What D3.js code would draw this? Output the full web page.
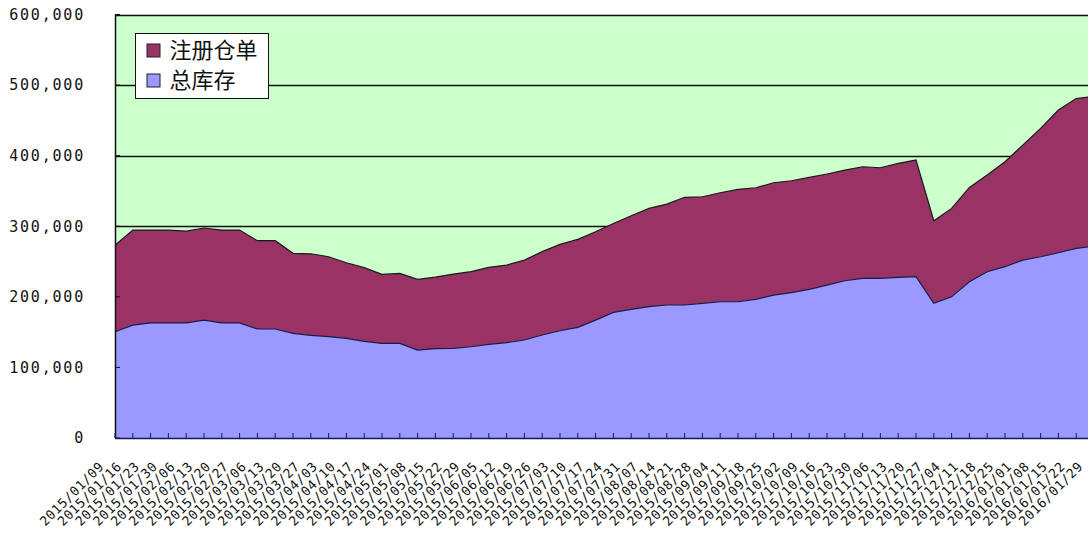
<!DOCTYPE html>
<html>
<head>
<meta charset="utf-8">
<script src="https://cdn.jsdelivr.net/npm/d3@7"></script>
<style>
  html, body { margin: 0; padding: 0; background: #ffffff; }
  svg { display: block; }
</style>
</head>
<body>
<svg id="chart" width="1088" height="539"></svg>
<script>
const dates = [
  "2015/01/09","2015/01/16","2015/01/23","2015/01/30","2015/02/06","2015/02/13","2015/02/20","2015/02/27",
  "2015/03/06","2015/03/13","2015/03/20","2015/03/27","2015/04/03","2015/04/10","2015/04/17","2015/04/24",
  "2015/05/01","2015/05/08","2015/05/15","2015/05/22","2015/05/29","2015/06/05","2015/06/12","2015/06/19",
  "2015/06/26","2015/07/03","2015/07/10","2015/07/17","2015/07/24","2015/07/31","2015/08/07","2015/08/14",
  "2015/08/21","2015/08/28","2015/09/04","2015/09/11","2015/09/18","2015/09/25","2015/10/02","2015/10/09",
  "2015/10/16","2015/10/23","2015/10/30","2015/11/06","2015/11/13","2015/11/20","2015/11/27","2015/12/04",
  "2015/12/11","2015/12/18","2015/12/25","2016/01/01","2016/01/08","2016/01/15","2016/01/22","2016/01/29"
];

// 总库存 (total inventory) – bottom series
const totalStock = [
  150600,160000,163000,163000,163000,167000,163000,163000,154400,154400,148300,145400,143500,141200,137000,134000,
  134000,124600,126500,127000,129300,132700,135000,138800,145900,152000,156800,167000,178000,182300,186000,188400,
  188400,190800,193000,193000,196400,202500,205900,210600,216700,222800,226200,226200,227600,228500,190800,200000,
  221400,235600,242700,252000,256800,262500,268700,272000
];

// 注册仓单 (registered warrants) – stacked on top
const registered = [
  122400,134600,131600,131600,130000,130500,131600,131600,125100,125100,113300,115600,113300,107100,104300,97800,
  99200,100100,101500,105300,106300,109100,110000,113200,118100,122300,124600,125200,126000,132600,139300,143000,
  152600,151000,154500,159300,158100,159100,158600,158600,157300,156800,158100,156700,161400,165300,117000,125300,
  133600,136900,148700,163000,181900,202100,212300,212000
];

const yTicks = [0,100000,200000,300000,400000,500000,600000];
const seriesNames = ["总库存","注册仓单"];
const seriesColors = ["#9999FF","#993366"];

(function () {
const svg = d3.select("#chart");
const W = 1088, H = 539;
const mLeft = 115, mTop = 14.5, mBottom = 438;
const stepX = 17.8;
const mRight = mLeft + stepX * (dates.length - 1);

const x = d3.scalePoint().domain(dates).range([mLeft, mRight]);
const y = d3.scaleLinear().domain([0, 600000]).range([mBottom, mTop]);

const rows = dates.map((d, i) => ({date: d, total: totalStock[i], registered: registered[i]}));
const stacked = d3.stack().keys(["total","registered"])(rows);

// plot background
svg.append("rect")
  .attr("x", mLeft).attr("y", mTop)
  .attr("width", W - mLeft + 10).attr("height", mBottom - mTop)
  .attr("fill", "#CCFFCC");

// gridlines
svg.append("g").selectAll("line")
  .data(yTicks.filter(v => v > 0))
  .join("line")
  .attr("x1", mLeft).attr("x2", W + 10)
  .attr("y1", d => Math.round(y(d)) + 0.5).attr("y2", d => Math.round(y(d)) + 0.5)
  .attr("stroke", "#111").attr("stroke-width", 1.3);

// areas
const area = d3.area()
  .x((d, i) => x(dates[i]))
  .y0(d => y(d[0]))
  .y1(d => y(d[1]));
const topLine = d3.line()
  .x((d, i) => x(dates[i]))
  .y(d => y(d[1]));

svg.append("g").selectAll("path")
  .data(stacked)
  .join("path")
  .attr("d", area)
  .attr("fill", (d, i) => seriesColors[i]);

svg.append("g").selectAll("path")
  .data(stacked)
  .join("path")
  .attr("d", topLine)
  .attr("fill", "none")
  .attr("stroke", (d, i) => i === 0 ? "#1a1a4a" : "#1a1a1a")
  .attr("stroke-width", 1.2);

// left axis
const yAxis = d3.axisLeft(y).tickValues(yTicks).tickSize(0).tickPadding(0)
  .tickFormat(d3.format(","));
const gy = svg.append("g").attr("transform", `translate(${mLeft},0)`).call(yAxis);
gy.select(".domain").remove();
gy.selectAll("text")
  .attr("x", -30)
  .attr("font-family", "DejaVu Sans Mono, monospace")
  .attr("font-size", 15)
  .attr("letter-spacing", "1.8px")
  .attr("fill", "#111");
svg.append("line")
  .attr("x1", mLeft + 0.5).attr("x2", mLeft + 0.5)
  .attr("y1", mTop).attr("y2", mBottom)
  .attr("stroke", "#111").attr("stroke-width", 1.5);
svg.append("g").selectAll("line")
  .data(yTicks)
  .join("line")
  .attr("x1", mLeft).attr("x2", mLeft + 5)
  .attr("y1", d => y(d)).attr("y2", d => y(d))
  .attr("stroke", "#111");

// bottom axis
const xAxis = d3.axisBottom(x).tickSize(0).tickPadding(0);
const gx = svg.append("g").attr("transform", `translate(0,${mBottom})`).call(xAxis);
gx.select(".domain").remove();
gx.selectAll("text")
  .attr("text-anchor", "end")
  .attr("font-family", "DejaVu Sans Mono, monospace")
  .attr("font-size", 13)
  .attr("letter-spacing", "0.6px")
  .attr("fill", "#111")
  .attr("transform", "translate(-14,26) rotate(-45)")
  .attr("dy", "0.35em")
  .attr("y", 0)
  .attr("x", 0);
svg.append("line")
  .attr("x1", mLeft).attr("x2", W + 10)
  .attr("y1", mBottom + 0.5).attr("y2", mBottom + 0.5)
  .attr("stroke", "#1a1a4a").attr("stroke-width", 1.5);
svg.append("g").selectAll("line")
  .data(dates)
  .join("line")
  .attr("x1", d => x(d)).attr("x2", d => x(d))
  .attr("y1", mBottom).attr("y2", mBottom - 5)
  .attr("stroke", "#1a1a4a");

// top border
svg.append("line")
  .attr("x1", mLeft).attr("x2", W + 10)
  .attr("y1", Math.round(mTop) + 0.5).attr("y2", Math.round(mTop) + 0.5)
  .attr("stroke", "#111");

// legend
const lg = svg.append("g").attr("transform", "translate(135.5,33.5)");
lg.append("rect").attr("width", 133).attr("height", 65)
  .attr("fill", "#fff").attr("stroke", "#111").attr("stroke-width", 1);
const legendItems = [
  {name: seriesNames[1], color: seriesColors[1]},
  {name: seriesNames[0], color: seriesColors[0]}
];
const li = lg.selectAll("g.item").data(legendItems).join("g")
  .attr("transform", (d, i) => `translate(0,${17 + i * 30})`);
li.append("rect")
  .attr("x", 11.5).attr("y", -6.5).attr("width", 13).attr("height", 13)
  .attr("fill", d => d.color).attr("stroke", "#222");
li.append("text")
  .attr("x", 34).attr("y", 0).attr("dy", "0.36em")
  .attr("font-family", "Noto Sans CJK SC, sans-serif")
  .attr("font-size", 22)
  .attr("fill", "#111")
  .text(d => d.name);
})();
</script>
</body>
</html>
